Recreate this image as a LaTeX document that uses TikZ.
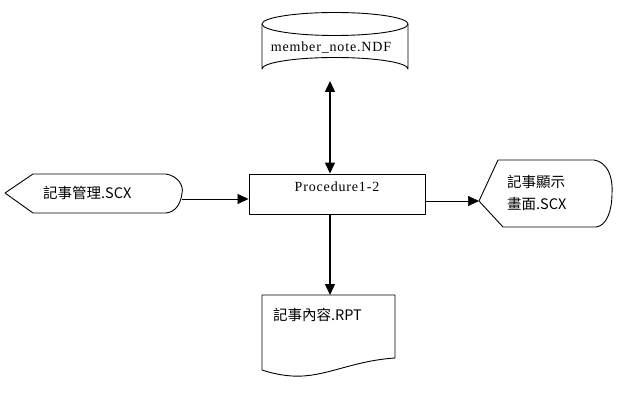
\documentclass[tikz,border=0pt]{standalone}
\usepackage{fontspec}
\setmainfont{Liberation Serif}
\newfontfamily\cjk{Noto Sans CJK TC}
\usetikzlibrary{positioning,arrows.meta,calc}

\begin{document}
\begin{tikzpicture}[x=1pt,y=-1pt,
   lbl/.style={inner sep=0pt,font=\addfontfeature{LetterSpace=6}\fontsize{14}{16}\selectfont},
   cjklbl/.style={inner sep=0pt,font=\cjk\fontsize{14.5}{16}\selectfont},
   shp/.style={draw,line width=0.9pt,line join=round},
   link/.style={draw,line width=1.4pt,-{Triangle[length=11pt,width=10pt]}},
   hlink/.style={draw,line width=0.7pt,-{Triangle[length=11pt,width=10pt]}},
   dlink/.style={draw,line width=1.4pt,{Triangle[length=11pt,width=10pt]}-{Triangle[length=11pt,width=10pt]}}]
 \useasboundingbox (0,0) rectangle (618,403);
 % data store (cylinder)
 \draw[shp] (262,24) -- (262,69) arc[start angle=180,end angle=360,x radius=73,y radius=11.5]
   -- (408,24);
 \draw[shp] (335,24) ellipse[x radius=73,y radius=11.5];
 \node[lbl] (ndf) at (331,48) {member\_note.NDF};
 \coordinate (ndfb) at (330,81);
 % process
 \node[shp,minimum width=176pt,minimum height=40pt,inner sep=0pt] (proc) at (337,194) {};
 \node[lbl] (proct) at (337,187) {Procedure1-2};
 % input screen
 \draw[shp] (5,193) -- (33,174) -- (166,174) .. controls (178,176) and (184,186) .. (182,193)
   .. controls (181,203) and (176,212) .. (166,213) -- (33,213) -- cycle;
 \node[cjklbl,anchor=west] (scxin) at (43,193) {記事管理.SCX};
 \coordinate (scxr) at (182,199);
 % output screen
 \draw[shp] (479,201) -- (498,160) -- (594,160) .. controls (607,162) and (613,176) .. (612,193)
   .. controls (612,212) and (606,226) .. (596,227) -- (503,227) -- cycle;
 \node[cjklbl,anchor=west,align=left] (scxout) at (507,193) {記事顯示\\[6pt]畫面.SCX};
 \coordinate (scxl) at (479,201);
 % report (document)
 \draw[shp] (262,295) -- (395,295) -- (395,358) .. controls (350,361) and (325,378) .. (292,376)
   .. controls (278,375) and (268,372) .. (262,370) -- cycle;
 \node[cjklbl,anchor=west] (rpt) at (273,315) {記事內容.RPT};
 \coordinate (rptt) at (330,295);
 % flows
 \draw[dlink] (ndfb) -- (ndfb |- proc.north);
 \draw[hlink] (scxr) -- (scxr -| proc.west);
 \draw[hlink] (proc.east |- scxl) -- (scxl);
 \draw[link] (rptt |- proc.south) -- (rptt);
\end{tikzpicture}
\end{document}
